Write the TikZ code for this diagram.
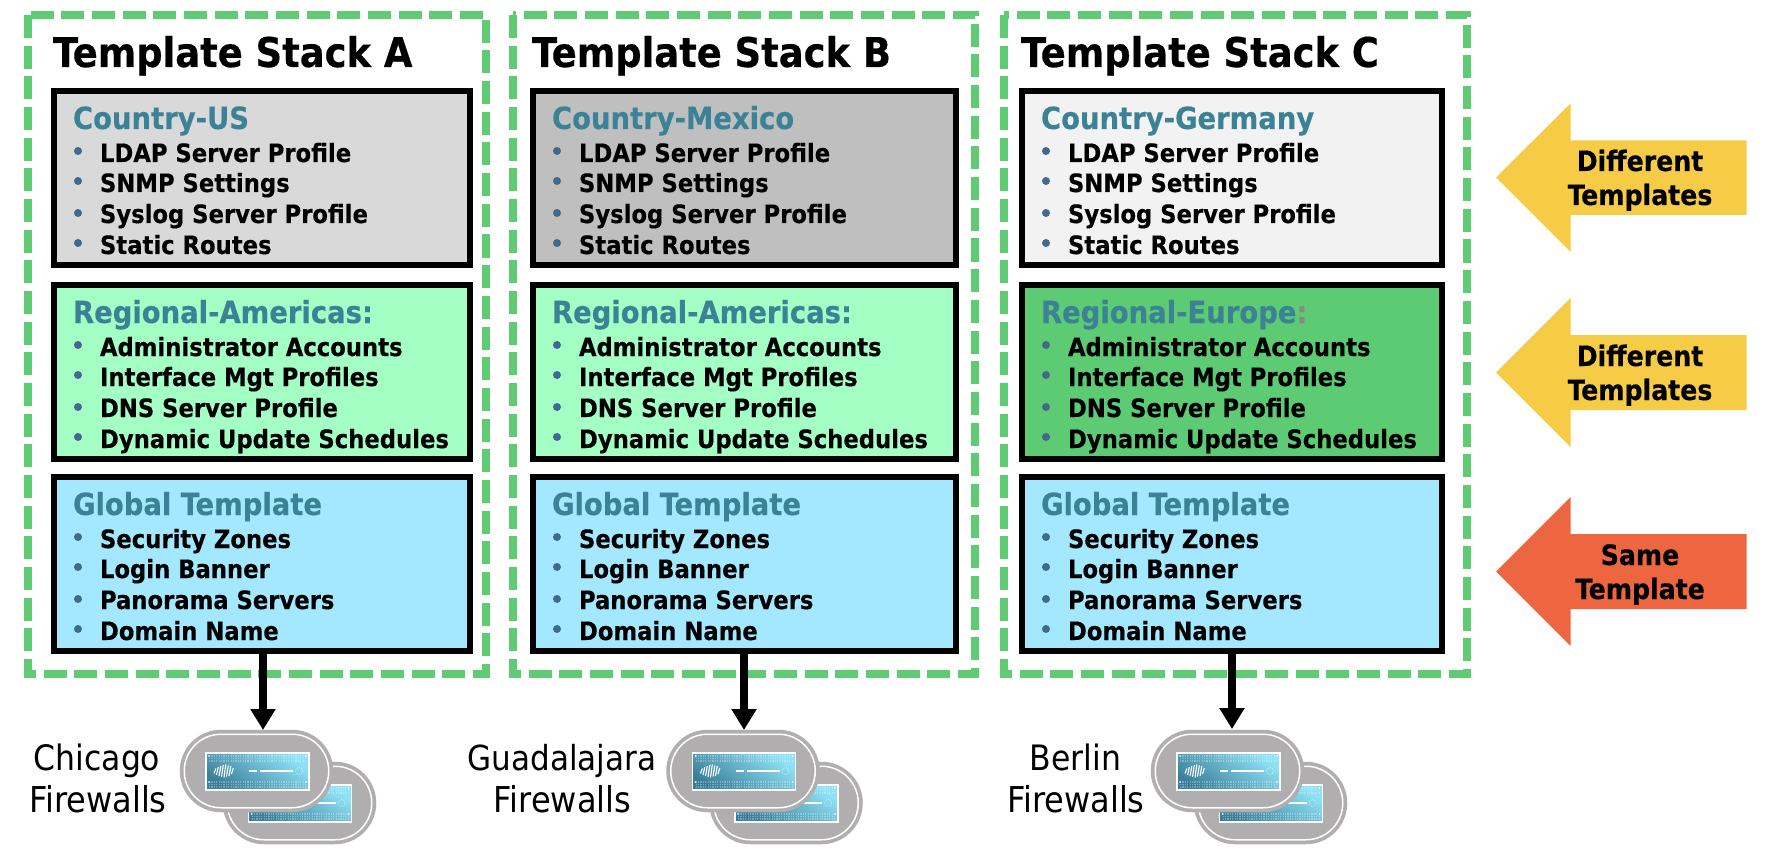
\documentclass[tikz,border=0pt]{standalone}
\usepackage{fontspec}
\setmainfont{DejaVu Sans Condensed}[BoldFeatures={FakeBold=0.35}]
\usetikzlibrary{arrows.meta}
\definecolor{dashgreen}{HTML}{5FCC74}
\definecolor{headteal}{HTML}{3B8296}
\definecolor{bulletblue}{HTML}{41698F}
\definecolor{colA}{HTML}{D9D9D9}
\definecolor{colB}{HTML}{BFBFBF}
\definecolor{colC}{HTML}{F2F2F2}
\definecolor{regam}{HTML}{A3FFC4}
\definecolor{regeu}{HTML}{5CCB73}
\definecolor{globalc}{HTML}{A4E8FF}
\definecolor{yellowar}{HTML}{F6CB45}
\definecolor{orangear}{HTML}{EE663F}
\definecolor{pillgrey}{HTML}{B0AEAE}
\definecolor{colonc}{HTML}{8A8A7C}
\definecolor{fwdark}{HTML}{3A7F9A}
\definecolor{fwlight}{HTML}{8FE2F6}
\tikzset{
  stackframe/.style={draw=dashgreen,line width=8pt,dash pattern=on 23pt off 7.67pt},
  panelbox/.style={draw=black,line width=6pt,rectangle,inner sep=0pt,outer sep=0pt,anchor=north west},
  titletext/.style={anchor=base west,inner sep=0pt,outer sep=0pt,font=\bfseries\fontsize{41}{41}\selectfont},
  headtext/.style={anchor=base west,inner sep=0pt,outer sep=0pt,text=headteal,font=\bfseries\fontsize{30.5}{30.5}\selectfont},
  itemtext/.style={anchor=base west,inner sep=0pt,outer sep=0pt,font=\bfseries\fontsize{25.25}{25.25}\selectfont},
  bulletdot/.style={circle,fill=bulletblue,inner sep=0pt,outer sep=0pt,minimum size=8pt},
  sidetext/.style={anchor=base,inner sep=0pt,outer sep=0pt,font=\bfseries\fontsize{28}{28}\selectfont},
  citytext/.style={anchor=base,inner sep=0pt,outer sep=0pt,font=\fontsize{#1}{#1}\selectfont},
  feed/.style={line width=8pt,-{Triangle[width=24pt,length=21pt]}},
  pill/.style={rectangle,rounded corners=36.7pt,fill=pillgrey,draw=white,line width=1.5pt,
    minimum width=144.5pt,minimum height=73.5pt,inner sep=0pt,outer sep=0pt,
    preaction={draw=pillgrey,line width=9pt}},
}
% name, top of outer box, fill, heading, four items
\newcommand\panelrow[8]{%
  \node[panelbox,fill=#3,minimum width=\bw pt,minimum height=174pt] (#1) at (\bx,#2+3) {};
  \node[headtext] (#1h) at (\bx+19,#2+41) {#4};
  \node[bulletdot] (#1b1) at (\bx+24,#2+63) {};
  \node[bulletdot] (#1b2) at (\bx+24,#2+93) {};
  \node[bulletdot] (#1b3) at (\bx+24,#2+125) {};
  \node[bulletdot] (#1b4) at (\bx+24,#2+155) {};
  \node[itemtext] (#1i1) at (\bx+46,#2+74) {#5};
  \node[itemtext] (#1i2) at (\bx+46,#2+104) {#6};
  \node[itemtext] (#1i3) at (\bx+46,#2+135) {#7};
  \node[itemtext] (#1i4) at (\bx+46,#2+166) {#8};
}
\newcommand\threepanels[5]{% prefix, fill1, heading1, fill2, heading2
  \panelrow{#1c}{88}{#2}{#3}{LDAP Server Profile}{SNMP Settings}{Syslog Server Profile}{Static Routes}
  \panelrow{#1r}{282}{#4}{#5}{Administrator Accounts}{Interface Mgt Profiles}{DNS Server Profile}{Dynamic Update Schedules}
  \panelrow{#1g}{474}{globalc}{Global Template}{Security Zones}{Login Banner}{Panorama Servers}{Domain Name}
}
% appliance face at upper-left corner (#1,#2)
\newcommand\fwface[2]{%
  \begin{scope}[shift={(#1,#2)}]
    \shade[top color=fwlight,bottom color=fwdark,shading angle=-35] (0,0) rectangle (103,37);
    \draw[white,line width=1.5pt] (0,0) rectangle (103,37);
    \foreach \yy in {3,5.5,8,29,31.5,34}
      \draw[white,opacity=.3,line width=1.2pt,dash pattern=on 1.2pt off 1.2pt] (3,\yy) -- (100,\yy);
    \foreach \xx/\hh in {8/1.5,10.5/3,13/4,15.5/5,18/5.5,20.5/4.5,23/4,25.5/2}
      \draw[white,line width=1.1pt] (\xx,19+\hh) -- (\xx+1.8,17-\hh);
    \draw[white,line width=1.5pt] (43,18) -- (51,18) (54,18) -- (87,18);
    \draw[white,opacity=.6,line width=.6pt,dash pattern=on 1pt off 1pt] (93,18) circle (3.5);
    \fill[white] (3,3) circle (.8) (100,3) circle (.8) (3,29) circle (.8) (100,29) circle (.8);
  \end{scope}}
% name, left edge of the front appliance
\newcommand\fwpair[2]{%
  \node[pill] (#1back) at (#2+43+76.5,803) {};
  \fwface{#2+68.5}{785}
  \node[pill] (#1) at (#2+76.5,771) {};
  \fwface{#2+26}{753}
}
\begin{document}
\begin{tikzpicture}[x=1pt,y=-1pt]
\useasboundingbox (0,0) rectangle (1766,850);
\fill[white] (0,0) rectangle (1766,850);
% dashed frames
\draw[stackframe] (28,15) rectangle (486,674);
\draw[stackframe] (513,15) rectangle (975,674);
\draw[stackframe] (1004,15) rectangle (1467,674);
% titles
\node[titletext] (ta) at (53,67) {Template Stack A};
\node[titletext] (tb) at (532,67) {Template Stack B};
\node[titletext] (tc) at (1021,67) {Template Stack C};
% panels
\def\bx{54}\def\bw{416}
\threepanels{a}{colA}{Country-US}{regam}{Regional-Americas:}
\def\bx{533}\def\bw{423}
\threepanels{b}{colB}{Country-Mexico}{regam}{Regional-Americas:}
\def\bx{1022}\def\bw{420}
\threepanels{d}{colC}{Country-Germany}{regeu}{Regional-Europe\textcolor{colonc}{:}}
% firewalls
\fwpair{fwa}{180}
\fwpair{fwb}{666.5}
\fwpair{fwc}{1151}
\coordinate (tipa) at (263,730);
\coordinate (tipb) at (744,730);
\coordinate (tipc) at (1232,729);
\draw[feed] (ag.south -| tipa) -- (tipa);
\draw[feed] (bg.south -| tipb) -- (tipb);
\draw[feed] (dg.south -| tipc) -- (tipc);
% city labels
\node[citytext=35] (c1) at (97,770) {Chicago};
\node[citytext=35.6] (c2) at (98,812) {Firewalls};
\node[citytext=34.5] (g1) at (562,770) {Guadalajara};
\node[citytext=35.6] (g2) at (562.5,812) {Firewalls};
\node[citytext=35] (b1) at (1075.5,770) {Berlin};
\node[citytext=35.6] (b2) at (1076,812) {Firewalls};
% side arrows
\fill[yellowar] (1496,177.5) -- (1570.5,103.5) -- (1570.5,140.5) -- (1746.5,140.5) -- (1746.5,215) -- (1570.5,215) -- (1570.5,252) -- cycle;
\fill[yellowar] (1496,372.5) -- (1570.5,298) -- (1570.5,335) -- (1746.5,335) -- (1746.5,410) -- (1570.5,410) -- (1570.5,447) -- cycle;
\fill[orangear] (1496,571.5) -- (1570.5,497) -- (1570.5,534) -- (1746.5,534) -- (1746.5,609) -- (1570.5,609) -- (1570.5,646) -- cycle;
\node[sidetext] (s1) at (1640,171) {Different};
\node[sidetext] (s2) at (1640,205) {Templates};
\node[sidetext] (s3) at (1640,366) {Different};
\node[sidetext] (s4) at (1640,400) {Templates};
\node[sidetext] (s5) at (1640,565) {Same};
\node[sidetext] (s6) at (1640,599) {Template};
\end{tikzpicture}
\end{document}
